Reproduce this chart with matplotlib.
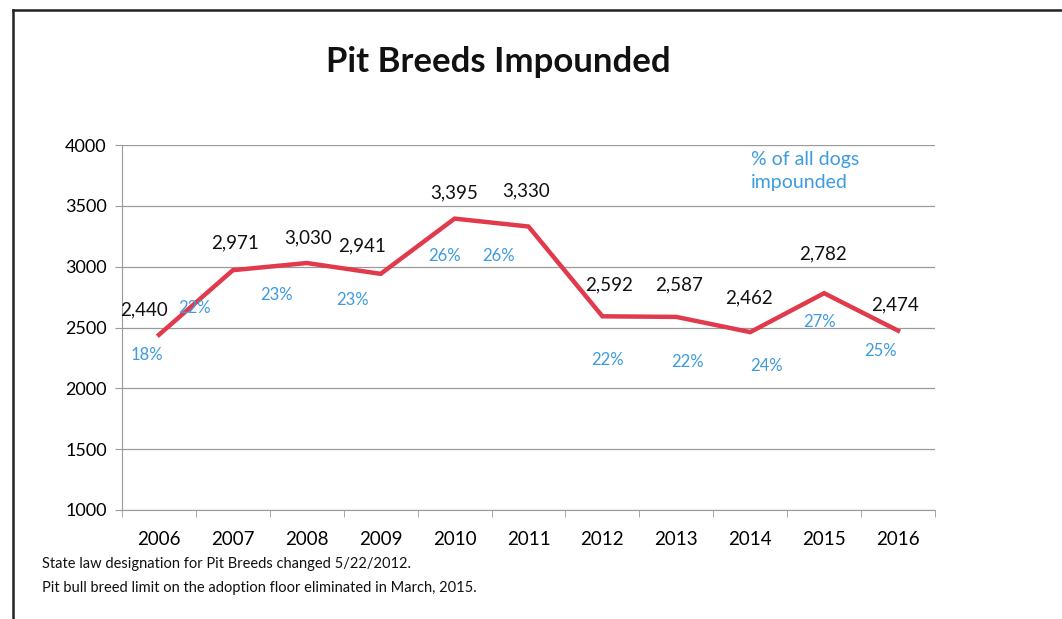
import matplotlib.pyplot as plt
from matplotlib.lines import Line2D
import numpy as np

years = ["2006", "2007", "2008", "2009", "2010", "2011", "2012", "2013", "2014", "2015", "2016"]
impounded = [2440, 2971, 3030, 2941, 3395, 3330, 2592, 2587, 2462, 2782, 2474]
pct_of_all = [18, 22, 23, 23, 26, 26, 22, 22, 24, 27, 25]
yticks = [1000, 1500, 2000, 2500, 3000, 3500, 4000]
notes = ["State law designation for Pit Breeds changed 5/22/2012.",
         "Pit bull breed limit on the adoption floor eliminated in March, 2015."]

# label offsets in pixels (hand placed text boxes in the original)
val_off = [(-15, 25), (2, 27), (1, 25), (-19, 28), (0, 26), (-2, 36),
           (7, 31), (3, 32), (-1, 34), (-1, 39), (-3, 26)]
pct_off = [(-12, -20), (-38, -38), (-30, -32), (-28, -26), (-10, -37), (-30, -29),
           (5, -44), (11, -45), (16, -34), (-5, -29), (-18, -20)]

plt.rcParams['font.family'] = ['Lato', 'DejaVu Sans']
red = "#e03a4c"
blue = "#3d9be0"
grid = "#9a9a9a"

fig = plt.figure(figsize=(10.62, 6.19), dpi=100)
ax = fig.add_axes([122/1062, 1-510/619, 813/1062, 365/619])

x = np.arange(len(years))
ax.plot(x, impounded, color=red, lw=3.2, solid_joinstyle="miter")

ax.set_xlim(-0.5, len(years) - 0.5)
ax.set_ylim(1000, 4000)
ax.set_yticks(yticks)
ax.set_yticklabels([str(v) for v in yticks], fontsize=13)
ax.set_xticks(x)
ax.set_xticklabels(years, fontsize=13.5)
ax.set_xticks(np.arange(-0.5, len(years), 1), minor=True)
ax.tick_params(axis="x", which="major", length=0, pad=15)
ax.tick_params(axis="x", which="minor", length=5, color=grid, direction="out")
ax.tick_params(axis="y", length=5, color=grid, pad=6)
ax.grid(axis="y", color=grid, lw=0.9)
ax.set_axisbelow(True)
for s in ["top", "right"]:
    ax.spines[s].set_visible(False)
ax.spines["left"].set_color(grid)
ax.spines["bottom"].set_color(grid)

for i, v in enumerate(impounded):
    ax.annotate(f"{v:,}", (x[i], v), xytext=val_off[i], textcoords="offset pixels",
                ha="center", va="center", fontsize=13.5, color="#111111")
for i, p in enumerate(pct_of_all):
    ax.annotate(f"{p}%", (x[i], impounded[i]), xytext=pct_off[i], textcoords="offset pixels",
                ha="center", va="center", fontsize=12, color=blue)

fig.text(751/1062, 1-171/619, "% of all dogs\nimpounded", ha="left", va="center",
         fontsize=14, color=blue, linespacing=1.45)

fig.text(498/1062, 1-62/619, "Pit Breeds Impounded", ha="center", va="center",
         fontsize=25, fontweight="bold", color="#111111")

fig.text(42/1062, 1-564/619, notes[0], ha="left", va="center", fontsize=10.5, color="#111111")
fig.text(42/1062, 1-588/619, notes[1], ha="left", va="center", fontsize=10.5, color="#111111")

# scanned page border
fig.add_artist(Line2D([13/1062, 1], [1-10/619, 1-10/619], color="#222222", lw=1.8))
fig.add_artist(Line2D([13/1062, 13/1062], [0, 1-10/619], color="#222222", lw=1.8))

fig.savefig("out.png", dpi=100)
